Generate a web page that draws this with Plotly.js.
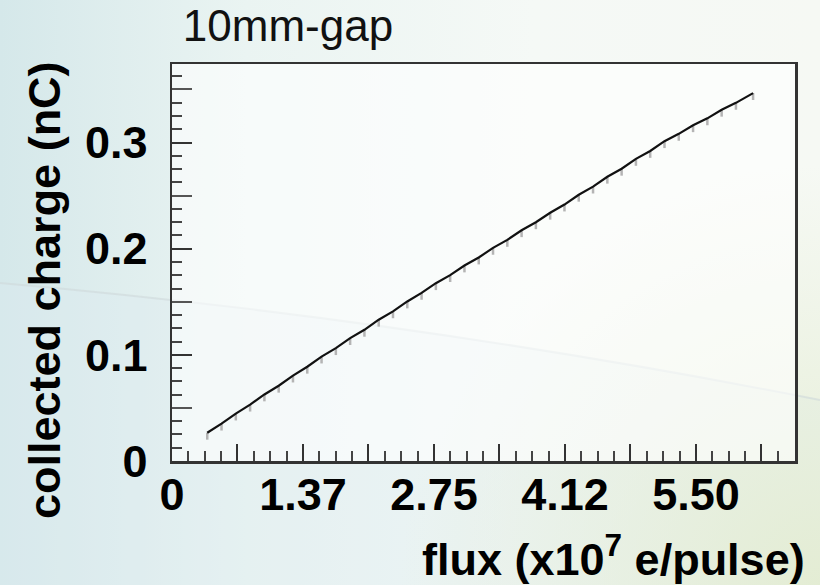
<!DOCTYPE html>
<html>
<head>
<meta charset="utf-8">
<script src="https://cdn.plot.ly/plotly-3.0.1.min.js"></script>
<style>
  html, body { margin: 0; padding: 0; width: 820px; height: 585px; overflow: hidden; }
  #bg { position: absolute; left: 0; top: 0; }
  #chart { position: absolute; left: 0; top: 0; width: 820px; height: 585px; }
</style>
</head>
<body>
<!-- slide backdrop behind the chart -->
<svg id="bg" width="820" height="585" xmlns="http://www.w3.org/2000/svg">
  <defs>
    <linearGradient id="base" x1="0" y1="0" x2="1" y2="0">
      <stop offset="0" stop-color="#d5e8ea"/>
      <stop offset="0.3" stop-color="#eaf4f2"/>
      <stop offset="0.65" stop-color="#f5f9f6"/>
      <stop offset="1" stop-color="#f6f9f4"/>
    </linearGradient>
    <radialGradient id="green" cx="820" cy="585" r="420" gradientUnits="userSpaceOnUse">
      <stop offset="0" stop-color="#e3ecd2" stop-opacity="0.95"/>
      <stop offset="1" stop-color="#e3ecd2" stop-opacity="0"/>
    </radialGradient>
  </defs>
  <rect width="820" height="585" fill="url(#base)"/>
  <path d="M0,283 Q410,319 820,400 L820,585 L0,585 Z" fill="#dcecf0" fill-opacity="0.35"/>
  <rect width="820" height="585" fill="url(#green)"/>
  <path d="M0,283 Q410,319 820,400" fill="none" stroke="#cfd9da" stroke-width="2" stroke-opacity="0.6"/>
</svg>
<div id="chart"></div>
<script>
// flux in units of 1e7 e/pulse
var flux = [0.37, 0.52, 0.67, 0.82, 0.97, 1.12, 1.27, 1.42, 1.57, 1.72,
            1.87, 2.02, 2.17, 2.32, 2.47, 2.62, 2.77, 2.92, 3.07, 3.22,
            3.37, 3.52, 3.67, 3.82, 3.97, 4.12, 4.27, 4.42, 4.57, 4.72,
            4.87, 5.02, 5.17, 5.32, 5.47, 5.62, 5.77, 5.92, 6.10];
// collected charge in nC
var charge = [0.0266, 0.0352, 0.0447, 0.0531, 0.0627, 0.0709, 0.0805, 0.0888, 0.0984, 0.1063,
              0.1158, 0.1236, 0.1331, 0.1410, 0.1503, 0.1584, 0.1675, 0.1751, 0.1842, 0.1917,
              0.2008, 0.2083, 0.2174, 0.2249, 0.2339, 0.2416, 0.2508, 0.2585, 0.2678, 0.2753,
              0.2846, 0.2921, 0.3013, 0.3082, 0.3163, 0.3228, 0.3309, 0.3374, 0.3466];

// labelled ticks
var xTickVals = [0, 1.375, 2.75, 4.125, 5.5];
var xTickText = ['0', '1.37', '2.75', '4.12', '5.50'];
var yTickVals = [0, 0.1, 0.2, 0.3];
var yTickText = ['0', '0.1', '0.2', '0.3'];
// long unlabelled ticks half way between the labels
var xHalfTicks = [0.6875, 2.0625, 3.4375, 4.8125, 6.1875];
var yHalfTicks = [0.05, 0.15, 0.25, 0.35];

var xRange = [0, 6.54];
var yRange = [0, 0.374];

var boldFont = {family: 'Liberation Sans, Arial, sans-serif', size: 45, color: '#000', weight: 'bold'};

var traces = [{
  x: flux,
  y: charge,
  type: 'scatter',
  mode: 'lines',
  line: {color: '#111', width: 2.2},
  error_y: {type: 'constant', symmetric: false, value: 0, valueminus: 0.0065,
            color: '#b4b4b4', thickness: 2.5, width: 0},
  hoverinfo: 'skip'
}, {
  // carrier for the overlay axes that hold the half-way ticks
  x: [], y: [],
  xaxis: 'x2', yaxis: 'y2',
  type: 'scatter', mode: 'lines',
  hoverinfo: 'skip'
}];

var axisCommon = {
  showgrid: false,
  zeroline: false,
  showline: true,
  mirror: true,
  linecolor: '#333',
  linewidth: 2.5,
  ticks: 'inside',
  tickcolor: '#333',
  tickwidth: 2,
  tickmode: 'array',
  tickfont: boldFont,
  fixedrange: true
};

var layout = {
  width: 820,
  height: 585,
  margin: {l: 172, r: 25, t: 64, b: 124},
  paper_bgcolor: 'rgba(0,0,0,0)',
  plot_bgcolor: 'rgba(255,255,255,0.6)',
  showlegend: false,
  title: {
    text: '10mm-gap',
    font: {family: 'Liberation Sans, Arial, sans-serif', size: 44, color: '#111'},
    x: 288 / 820, xanchor: 'center', xref: 'container',
    y: 1 - 26 / 585, yanchor: 'middle', yref: 'container'
  },
  xaxis: Object.assign({}, axisCommon, {
    range: xRange,
    tickvals: xTickVals,
    ticktext: xTickText,
    ticklen: 17,
    ticklabelstandoff: -8,
    minor: {tickmode: 'linear', tick0: 0, dtick: 0.171875, ticks: 'inside', ticklen: 10,
            tickcolor: '#444', tickwidth: 2}
  }),
  yaxis: Object.assign({}, axisCommon, {
    range: yRange,
    tickvals: yTickVals,
    ticktext: yTickText,
    ticklen: 20,
    ticklabelstandoff: 13,
    minor: {tickmode: 'linear', tick0: 0, dtick: 0.0125, ticks: 'inside', ticklen: 10,
            tickcolor: '#444', tickwidth: 2}
  }),
  xaxis2: {
    overlaying: 'x', anchor: 'y2', side: 'bottom',
    range: xRange, tickmode: 'array', tickvals: xHalfTicks,
    ticks: 'inside', ticklen: 17, tickwidth: 2, tickcolor: '#333',
    showticklabels: false, showline: false, showgrid: false, zeroline: false,
    fixedrange: true
  },
  yaxis2: {
    overlaying: 'y', anchor: 'x2', side: 'left',
    range: yRange, tickmode: 'array', tickvals: yHalfTicks,
    ticks: 'inside', ticklen: 20, tickwidth: 2, tickcolor: '#555',
    showticklabels: false, showline: false, showgrid: false, zeroline: false,
    fixedrange: true
  },
  annotations: [
    {
      text: 'flux (x10<sup>7</sup> e/pulse)',
      xref: 'paper', yref: 'paper',
      x: (807 - 172) / 623, xanchor: 'right',
      y: -(556 - 461) / 397, yanchor: 'middle',
      showarrow: false,
      font: boldFont
    },
    {
      text: 'collected charge (nC)',
      xref: 'paper', yref: 'paper',
      x: (44 - 172) / 623, xanchor: 'center',
      y: (461 - 290) / 397, yanchor: 'middle',
      textangle: -90,
      showarrow: false,
      font: boldFont
    }
  ]
};

Plotly.newPlot('chart', traces, layout, {displayModeBar: false, staticPlot: true});
</script>
</body>
</html>
